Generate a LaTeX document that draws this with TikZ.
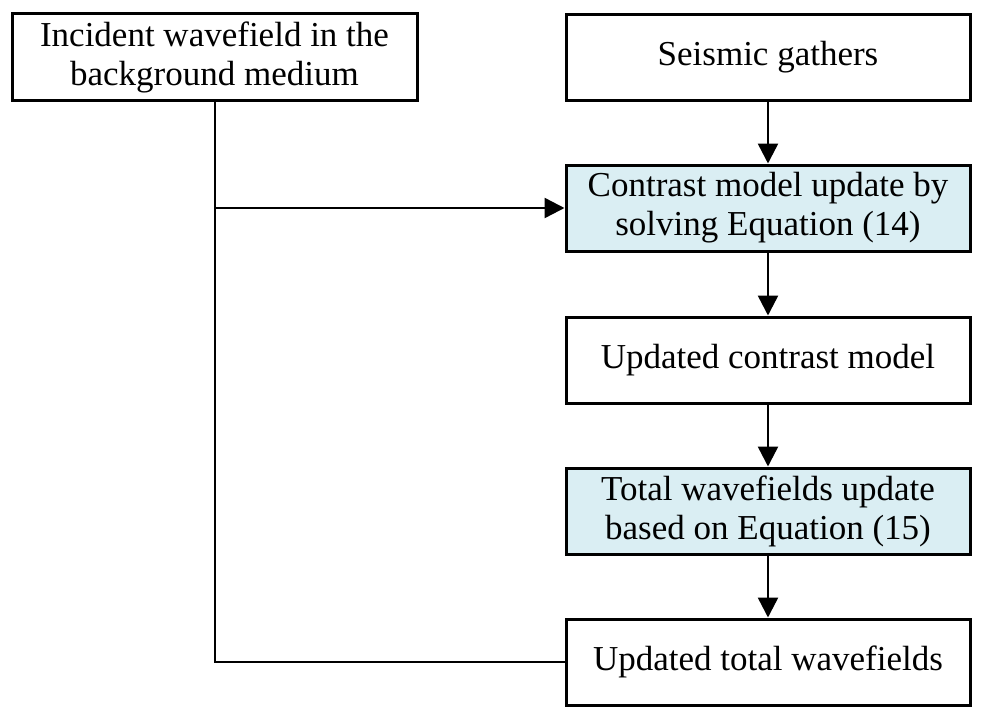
\documentclass[tikz,border=0pt]{standalone}
\usepackage{fontspec}
\setmainfont{Liberation Serif}
\usetikzlibrary{arrows.meta}
\definecolor{paleblue}{HTML}{DAEEF3}
\tikzset{
  box/.style={draw=black, line width=3pt, fill=white, minimum width=404pt, minimum height=86pt,
    align=center, inner sep=2pt, font=\fontsize{35}{39}\selectfont},
  hbox/.style={box, fill=paleblue},
  conn/.style={line width=2.5pt, draw=black},
  arr/.style={conn, -{Triangle[width=20pt,length=20pt]}}
}
\begin{document}
\begin{tikzpicture}[x=1pt,y=-1pt]
\useasboundingbox (0,0) rectangle (986,718);
\node[box, minimum width=405pt, minimum height=87pt] (inc) at (214.5,57) {Incident wavefield in the\\background medium};
\node[box] (seis) at (768,57) {Seismic gathers};
\node[hbox] (con) at (768,208) {Contrast model update by\\solving Equation (14)};
\node[box] (ucon) at (768,360) {Updated contrast model};
\node[hbox] (tot) at (768,511) {Total wavefields update\\based on Equation (15)};
\node[box] (utot) at (768,662) {Updated total wavefields};
\coordinate (j) at (215,208);
\draw[arr] (seis) -- (con);
\draw[arr] (con) -- (ucon);
\draw[arr] (ucon) -- (tot);
\draw[arr] (tot) -- (utot);
\draw[arr] (j) -- (con.west);
\draw[conn] (inc.south -| j) -- (j |- utot.west) -- (utot.west);
\end{tikzpicture}
\end{document}
